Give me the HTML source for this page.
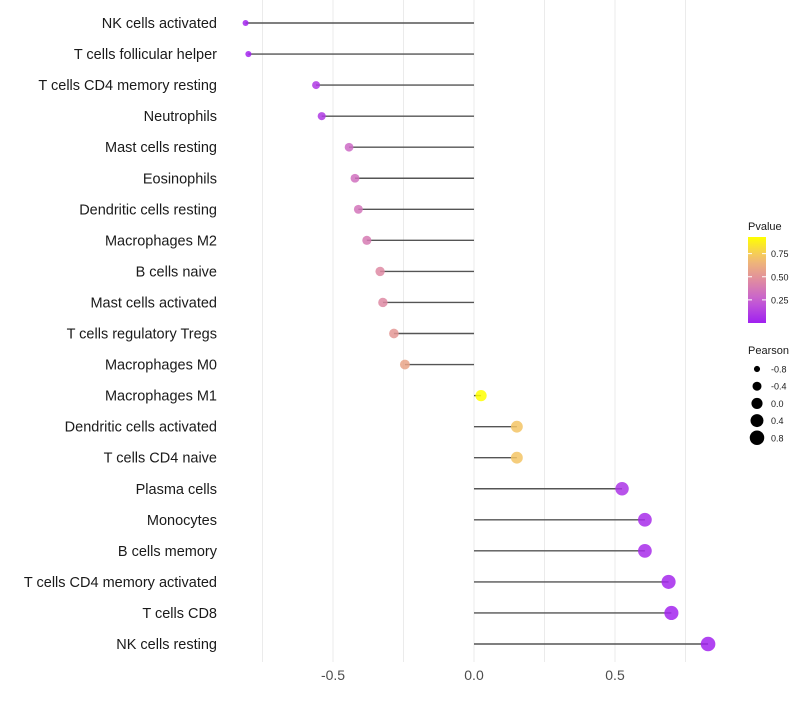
<!DOCTYPE html>
<html><head><meta charset="utf-8"><style>
body{margin:0;background:#fff;font-family:"Liberation Sans",sans-serif}
svg text{font-family:"Liberation Sans",sans-serif}
</style></head><body>
<svg id="c" width="800" height="700"></svg>
<script>
const categories=["NK cells activated","T cells follicular helper","T cells CD4 memory resting","Neutrophils","Mast cells resting","Eosinophils","Dendritic cells resting","Macrophages M2","B cells naive","Mast cells activated","T cells regulatory  Tregs ","Macrophages M0","Macrophages M1","Dendritic cells activated","T cells CD4 naive","Plasma cells","Monocytes","B cells memory","T cells CD4 memory activated","T cells CD8","NK cells resting"];
const pearson=[-0.81,-0.80,-0.56,-0.54,-0.443,-0.422,-0.41,-0.38,-0.333,-0.323,-0.284,-0.245,0.025,0.152,0.152,0.525,0.606,0.606,0.69,0.70,0.83];
const pvalues=[0.02,0.02,0.1,0.1,0.3,0.33,0.35,0.38,0.45,0.45,0.52,0.58,0.93,0.72,0.72,0.08,0.05,0.05,0.03,0.02,0.01];
const xTicks=[-0.5,0,0.5];
const xTickLabels=["-0.5","0.0","0.5"];
const gridVals=[-0.75,-0.5,-0.25,0,0.25,0.5,0.75];
const colorTicks=[0.25,0.5,0.75];
const sizeLegend=[-0.8,-0.4,0,0.4,0.8];
const NS="http://www.w3.org/2000/svg";
const svg=document.getElementById('c');
const x=v=>474+v*282;
const y=i=>23+i*31.05;
const pMax=0.93;
const stops=[[0,[160,32,240]],[0.25,[196,92,212]],[0.5,[224,140,160]],[0.75,[242,190,112]],[1,[255,255,0]]];
function col(p){let t=Math.max(0,Math.min(1,p/pMax));for(let k=1;k<stops.length;k++){if(t<=stops[k][0]){const a=stops[k-1],b=stops[k];const f=(t-a[0])/(b[0]-a[0]);const c=a[1].map((v,j)=>Math.round(v+(b[1][j]-v)*f));return `rgb(${c})`;}}return 'rgb(255,255,0)';}
const rad=v=>Math.sqrt(Math.max(2,31+27*v));
function mk(t,a,p){const e=document.createElementNS(NS,t);for(const k in a)e.setAttribute(k,a[k]);(p||svg).appendChild(e);return e;}
for(const g of gridVals){const l=mk('line',{x1:x(g),x2:x(g),y1:0,y2:662,stroke:'#ebebeb','stroke-width':1});

}
xTicks.forEach((v,i)=>{const t=mk('text',{x:x(v),y:680,'text-anchor':'middle','font-size':14,fill:'#4d4d4d'});t.textContent=xTickLabels[i];

});
categories.forEach((c,i)=>{
const t=mk('text',{x:217,y:y(i)+5,'text-anchor':'end','font-size':14.5,fill:'#1a1a1a'});t.textContent=c;


const l=mk('line',{x1:x(0),x2:x(pearson[i]),y1:y(i),y2:y(i),stroke:'#555','stroke-width':1.4});


const d=mk('circle',{cx:x(pearson[i]),cy:y(i),r:rad(pearson[i]),fill:col(pvalues[i]),'fill-opacity':0.85});


});
const defs=mk('defs',{});const lg=mk('linearGradient',{id:'g',x1:0,y1:1,x2:0,y2:0},defs);
for(let k=0;k<=10;k++){mk('stop',{offset:k/10,'stop-color':col(k/10*pMax)},lg);}
const tt=mk('text',{x:748,y:230,'font-size':11,fill:'#1a1a1a'});tt.textContent='Pvalue';


const cb=mk('rect',{x:748,y:237,width:18,height:86,fill:'url(#g)'});


const cy=p=>323-p*92.5;
colorTicks.forEach(p=>{mk('line',{x1:748,x2:752,y1:cy(p),y2:cy(p),stroke:'#fff'});mk('line',{x1:762,x2:766,y1:cy(p),y2:cy(p),stroke:'#fff'});
const t=mk('text',{x:771,y:cy(p)+3.5,'font-size':9,fill:'#1a1a1a'});t.textContent=p.toFixed(2);

});
const st=mk('text',{x:748,y:354,'font-size':11,fill:'#1a1a1a'});st.textContent='Pearson';


sizeLegend.forEach((v,i)=>{const yy=369+i*17.2;
const c=mk('circle',{cx:757,cy:yy,r:rad(v),fill:'#000'});


const t=mk('text',{x:771,y:yy+3.5,'font-size':9,fill:'#1a1a1a'});t.textContent=v.toFixed(1);

});
</script>
</body></html>
